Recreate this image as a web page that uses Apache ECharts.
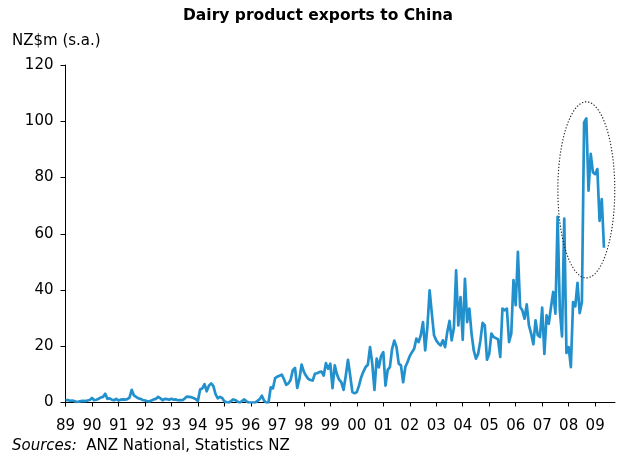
<!DOCTYPE html>
<html>
<head>
<meta charset="utf-8">
<script src="https://cdn.jsdelivr.net/npm/echarts@6/dist/echarts.min.js"></script>
<style>
html,body{margin:0;padding:0;background:#ffffff;}
#chart{width:621px;height:457px;}
</style>
</head>
<body>
<div id="chart"></div>
<script>
// ---------------- DATA ----------------
const firstYear = 1989;
const axisMonths = 250;               // Jan 1989 .. Oct 2009 on the category axis
const yTickValues = [0, 20, 40, 60, 80, 100, 120];

// Monthly dairy product exports to China, NZ$m (s.a.), Jan 1989 - May 2009
const exports1989_1993 = [
  0.8,0.9,0.6,0.7,0.5,0.2,0.3,0.5,0.6,0.5,0.7,0.9,
  1.6,0.8,1.0,1.3,1.8,2.0,3.1,1.3,1.5,1.0,0.8,1.3,
  0.7,1.0,1.1,1.0,1.2,1.7,4.5,2.5,2.0,1.5,1.3,0.9,
  0.7,0.5,0.4,0.7,1.1,1.3,2.0,1.5,0.8,1.3,1.2,1.0,
  1.3,1.0,1.1,0.8,0.9,0.8,1.4,2.1,2.0,1.9,1.6,1.2
];
const exports1994_1998 = [
  0.6,4.6,5.0,6.5,4.0,6.0,6.8,5.8,3.0,1.5,2.0,1.6,
  0.4,0.1,0.0,0.5,1.1,0.8,0.3,0.0,0.5,1.1,0.4,0.0,
  0.0,0.0,0.0,0.6,1.2,2.4,0.6,0.0,0.0,5.4,5.0,8.7,
  9.2,9.5,9.9,8.3,6.3,6.8,8.0,11.5,12.3,5.2,8.4,13.5,
  11.0,9.5,8.4,8.0,7.8,10.2,10.4,10.8,11.0,9.6,14.0,12.0
];
const exports1999_2003 = [
  13.8,5.1,13.2,10.0,8.1,7.2,4.5,9.5,15.2,9.6,3.7,3.3,
  3.7,6.0,9.0,11.0,12.6,13.4,19.7,13.8,4.5,15.6,12.5,16.5,
  17.9,6.0,11.6,12.6,19.1,22.0,19.7,13.8,13.2,7.2,12.6,14.4,
  16.5,17.9,19.1,22.7,21.5,23.9,28.6,18.5,27.0,39.9,31.6,23.9,
  22.1,21.0,20.3,22.1,19.7,25.1,29.0,22.1,26.6,47.0,27.4,37.5
];
const exports2004_2009 = [
  22.3,44.0,28.6,33.4,24.5,18.5,15.6,17.3,22.0,28.3,27.4,15.2,
  17.3,24.5,23.3,22.9,22.5,16.2,33.4,32.8,33.4,21.5,24.5,43.5,
  34.6,53.6,34.0,32.8,29.8,34.9,27.4,24.5,20.7,29.2,23.9,23.3,
  33.7,17.3,31.0,28.0,34.0,39.3,31.6,66.0,32.8,23.5,65.4,17.6,
  19.7,12.6,35.7,34.2,42.5,31.8,35.7,99.6,101.0,75.3,88.4,81.8,
  81.2,83.0,64.6,72.3,55.0
];
const exportValues = [].concat(exports1989_1993, exports1994_1998, exports1999_2003, exports2004_2009);

// Dotted ellipse highlighting the 2008-09 surge: [centre month, centre value, half-width (months), half-height (NZ$m)]
const highlight = [['2008-09', 75.6, 12.9, 31.3]];

// Month categories
const monthCategories = [];
for (let i = 0; i < axisMonths; i++) {
  const y = firstYear + Math.floor(i / 12);
  const m = (i % 12) + 1;
  monthCategories.push(y + '-' + (m < 10 ? '0' + m : m));
}

// ---------------- CHART ----------------
const FONT = 'DejaVu Sans';
const chart = echarts.init(document.getElementById('chart'), null, {renderer: 'canvas'});
const isJanuary = (idx) => idx % 12 === 0;

chart.setOption({
  animation: false,
  backgroundColor: '#ffffff',
  textStyle: {fontFamily: FONT, color: '#000'},
  title: [
    {
      text: 'Dairy product exports to China',
      left: 183, top: 8, padding: 0,
      textStyle: {fontFamily: FONT, fontWeight: 'bold', fontSize: 15.5, color: '#000'}
    },
    {
      text: 'NZ$m (s.a.)',
      left: 12, top: 34, padding: 0,
      textStyle: {fontFamily: FONT, fontWeight: 'normal', fontSize: 15, color: '#000'}
    },
    {
      text: '{i|Sources:}  ANZ National, Statistics NZ',
      left: 12, top: 439, padding: 0,
      textStyle: {
        fontFamily: FONT, fontWeight: 'normal', fontSize: 15, color: '#000',
        rich: {i: {fontFamily: FONT, fontStyle: 'italic', fontSize: 15, color: '#000'}}
      }
    }
  ],
  grid: {left: 65.5, right: 6, top: 65, bottom: 54.5, containLabel: false},
  xAxis: {
    type: 'category',
    data: monthCategories,
    boundaryGap: false,
    axisLine: {show: true, lineStyle: {color: '#000', width: 1}},
    axisTick: {show: true, inside: false, length: 4, interval: isJanuary, lineStyle: {color: '#000'}},
    axisLabel: {
      show: true, interval: isJanuary, margin: 16,
      fontFamily: FONT, fontSize: 15, color: '#000',
      formatter: (v) => v.slice(2, 4)
    },
    splitLine: {show: false}
  },
  yAxis: {
    type: 'value',
    min: 0, max: 120, interval: 20,
    axisLine: {show: true, lineStyle: {color: '#000', width: 1}},
    axisTick: {show: true, inside: false, length: 5, lineStyle: {color: '#000'}},
    axisLabel: {
      show: true, margin: 12, fontFamily: FONT, fontSize: 15, color: '#000',
      formatter: (v) => (yTickValues.indexOf(v) >= 0 ? String(v) : '')
    },
    splitLine: {show: false}
  },
  series: [
    {
      name: 'Dairy exports',
      type: 'line',
      data: exportValues,
      symbol: 'none',
      smooth: false,
      lineStyle: {color: '#2290CC', width: 2.7, join: 'round'},
      z: 2
    },
    {
      name: 'highlight',
      type: 'custom',
      data: highlight,
      clip: false,
      silent: true,
      z: 3,
      renderItem: function (params, api) {
        const c = api.coord([api.value(0), api.value(1)]);
        const band = api.size([1, 0])[0];
        const unitY = api.size([0, 1])[1];
        const rx = api.value(2) * band;
        const ry = api.value(3) * unitY;
        const pts = [];
        const n = 160;
        for (let i = 0; i <= n; i++) {
          const t = i / n * Math.PI * 2;
          pts.push([c[0] + rx * Math.cos(t), c[1] + ry * Math.sin(t)]);
        }
        return {
          type: 'polyline',
          shape: {points: pts},
          style: {fill: null, stroke: '#222', lineWidth: 1.1, lineDash: [1.3, 1.8]}
        };
      }
    }
  ]
});
</script>
</body>
</html>
